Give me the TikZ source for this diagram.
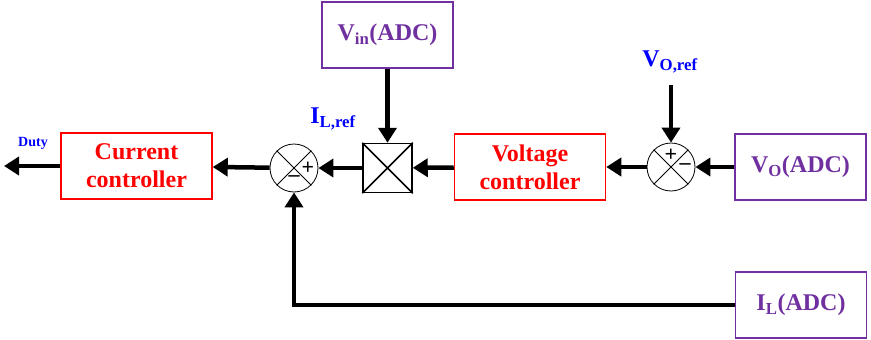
\documentclass[tikz,border=0pt]{standalone}
\usepackage{fontspec}
\setmainfont{Liberation Serif}
\usetikzlibrary{arrows.meta,positioning}
\definecolor{adcpurple}{RGB}{112,48,160}
\tikzset{
  ctrlbox/.style={draw=red, line width=1.5pt, text=red, align=center,
    font=\bfseries\fontsize{24}{28}\selectfont,
    minimum width=151pt, minimum height=66pt, inner sep=0pt},
  adcbox/.style={draw=adcpurple, line width=1.5pt, text=adcpurple,
    font=\bfseries\fontsize{24}{26}\selectfont,
    minimum width=131pt, minimum height=66pt, inner sep=0pt},
  sumnode/.style={draw, circle, minimum size=48pt, inner sep=0pt, line width=0.8pt},
  multnode/.style={draw, rectangle, minimum size=49pt, inner sep=0pt, line width=1.5pt},
  signal/.style={line width=4.5pt, -{Triangle[length=15pt,width=18pt]}},
  reflabel/.style={text=blue, font=\bfseries\fontsize{24}{26}\selectfont},
  signmark/.style={font=\bfseries\fontsize{22}{22}\selectfont, inner sep=0pt}
}
\begin{document}
\begin{tikzpicture}[x=1pt, y=-1pt]
  \useasboundingbox (0,0) rectangle (871,340);

  % Blocks
  \node[ctrlbox] (curctrl) at (136.5,166) {Current\\controller};
  \node[ctrlbox] (voltctrl) at (530,167) {Voltage\\controller};
  \node[sumnode] (sumi) at (294,168) {};
  \node[sumnode] (sumv) at (671,167) {};
  \node[multnode] (mult) at (387.5,168) {};
  \node[adcbox] (vin) at (387.5,35) {V\textsubscript{in}(ADC)};
  \node[adcbox] (vo) at (800.5,167) {V\textsubscript{O}(ADC)};
  \node[adcbox] (il) at (801,305) {I\textsubscript{L}(ADC)};

  % Crosses inside junctions and multiplier
  \draw[line width=0.8pt] (sumi.north east) -- (sumi.south west)
    (sumi.north west) -- (sumi.south east);
  \draw[line width=0.8pt] (sumv.north east) -- (sumv.south west)
    (sumv.north west) -- (sumv.south east);
  \draw[line width=1.5pt] (mult.north east) -- (mult.south west)
    (mult.north west) -- (mult.south east);

  % Signs
  \node[signmark] (sumiplus) at ([xshift=14pt]sumi.center) {+};
  \node[signmark] (suminus) at ([yshift=-11pt]sumi.center) {\textendash};
  \node[signmark] (sumvplus) at ([yshift=12pt]sumv.center) {+};
  \node[signmark] (sumvminus) at ([xshift=14pt]sumv.center) {\textendash};

  % Labels
  \node[text=blue, font=\bfseries\fontsize{14}{16}\selectfont] (duty) at (33,143) {Duty};
  \node[reflabel] (ilref) at (333,119) {I\textsubscript{L,ref}};
  \node[reflabel] (voref) at (670,62) {V\textsubscript{O,ref}};
  \coordinate (dutyend) at (4,166);
  \coordinate (vorefend) at (671,85);

  % Signal path
  \draw[signal] (vo) -- (sumv);
  \draw[signal] (vorefend) -- (sumv);
  \draw[signal] (sumv) -- (voltctrl);
  \draw[signal] (voltctrl) -- (mult);
  \draw[signal] (vin) -- (mult);
  \draw[signal] (mult) -- (sumi);
  \draw[signal] (sumi) -- (curctrl);
  \draw[signal] (curctrl.west) -- (dutyend);
  \draw[signal] (il.west) -| (sumi.south);
\end{tikzpicture}
\end{document}
